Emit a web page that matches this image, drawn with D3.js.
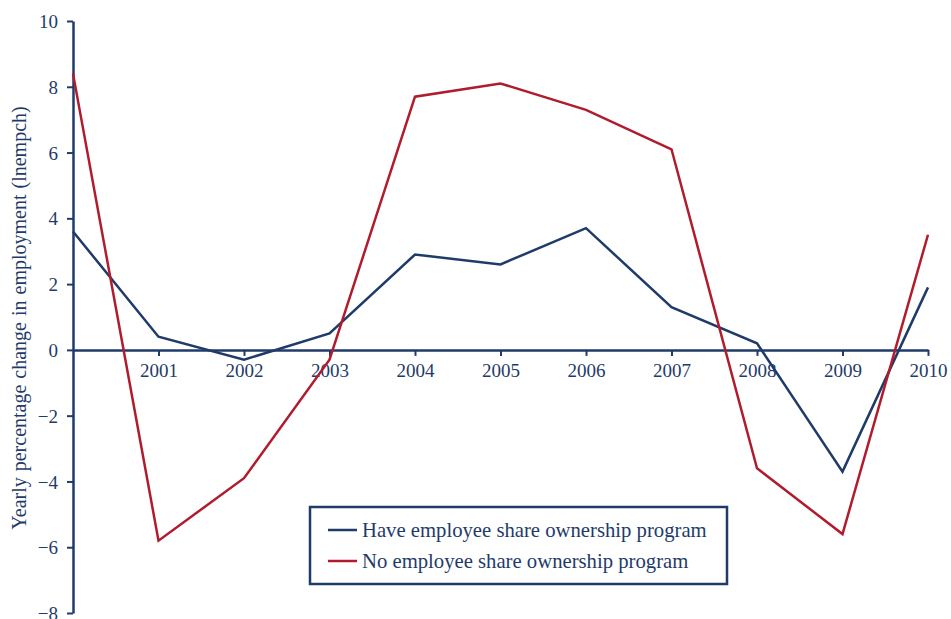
<!DOCTYPE html>
<html>
<head>
<meta charset="utf-8">
<script src="https://cdn.jsdelivr.net/npm/d3@7"></script>
<style>
  body { margin: 0; background: #fff; }
  text { font-family: "Liberation Serif", "Times New Roman", serif; fill: #1f3b6a; }
</style>
</head>
<body>
<div id="chart"></div>
<script>
// years on the x axis
var years = [2000, 2001, 2002, 2003, 2004, 2005, 2006, 2007, 2008, 2009, 2010]
// firms with an employee share ownership program
var haveEsop = [3.6, 0.4, -0.3, 0.5, 2.9, 2.6, 3.7, 1.3, 0.2, -3.7, 1.9]
// firms without one
var noEsop = [8.4, -5.8, -3.9, -0.3, 7.7, 8.1, 7.3, 6.1, -3.6, -5.6, 3.5]
var yTicks = [-8, -6, -4, -2, 0, 2, 4, 6, 8, 10]
var xTickYears = [2001, 2002, 2003, 2004, 2005, 2006, 2007, 2008, 2009, 2010]
var seriesNames = ["Have employee share ownership program", "No employee share ownership program"]

var blue = "#1f3b6a"
var red = "#b01c2e"

var width = 951, height = 619

var svg = d3.select("#chart").append("svg")
            .attr("width", width)
            .attr("height", height)

var x = d3.scaleLinear().domain([2000, 2010]).range([73, 928])
var y = d3.scaleLinear().domain([-8, 10]).range([613, 21])

// y axis
var yAxis = d3.axisLeft(y).tickValues(yTicks).tickSize(6).tickSizeOuter(0)
              .tickFormat(d => d < 0 ? "\u2212" + Math.abs(d) : d)
var gy = svg.append("g").attr("transform", "translate(" + x(2000) + ",0)").call(yAxis)
gy.select(".domain").attr("stroke", blue).attr("stroke-width", 2.5)
gy.selectAll(".tick line").attr("stroke", blue).attr("stroke-width", 2)
gy.selectAll(".tick text").attr("x", -15).attr("dy", "0.35em").style("font-size", "19px").attr("fill", blue)

// x axis through zero
var xAxis = d3.axisBottom(x).tickValues(xTickYears).tickSize(6).tickSizeOuter(0)
              .tickFormat(d3.format("d"))
var gx = svg.append("g").attr("transform", "translate(0," + y(0) + ")").call(xAxis)
gx.select(".domain").attr("stroke", blue).attr("stroke-width", 2.5)
gx.selectAll(".tick line").attr("stroke", blue).attr("stroke-width", 2)
gx.selectAll(".tick text").attr("y", 14).attr("dy", "0.71em").style("font-size", "19px").attr("fill", blue)

// lines
var line = d3.line().x((d, i) => x(years[i])).y(d => y(d))

svg.append("path").datum(haveEsop)
   .attr("d", line).attr("fill", "none")
   .attr("stroke", blue).attr("stroke-width", 2.5)

svg.append("path").datum(noEsop)
   .attr("d", line).attr("fill", "none")
   .attr("stroke", red).attr("stroke-width", 2.5)

// y label
svg.append("text")
   .attr("transform", "translate(26,318) rotate(-90)")
   .attr("text-anchor", "middle")
   .style("font-size", "20px")
   .style("word-spacing", "1px")
   .text("Yearly  percentage change in employment (lnempch)")

// legend
svg.append("rect")
   .attr("x", 310).attr("y", 507)
   .attr("width", 417).attr("height", 77)
   .attr("fill", "#fff").attr("stroke", blue).attr("stroke-width", 2.5)

var legendColors = [blue, red]
seriesNames.forEach(function(name, i) {
    var ly = 530 + i * 31
    svg.append("line")
       .attr("x1", 328).attr("x2", 357)
       .attr("y1", ly).attr("y2", ly)
       .attr("stroke", legendColors[i]).attr("stroke-width", 2.5)
    svg.append("text")
       .attr("x", 362).attr("y", ly)
       .attr("dy", "0.33em")
       .style("font-size", "20.7px")
       .text(name)
})
</script>
</body>
</html>
